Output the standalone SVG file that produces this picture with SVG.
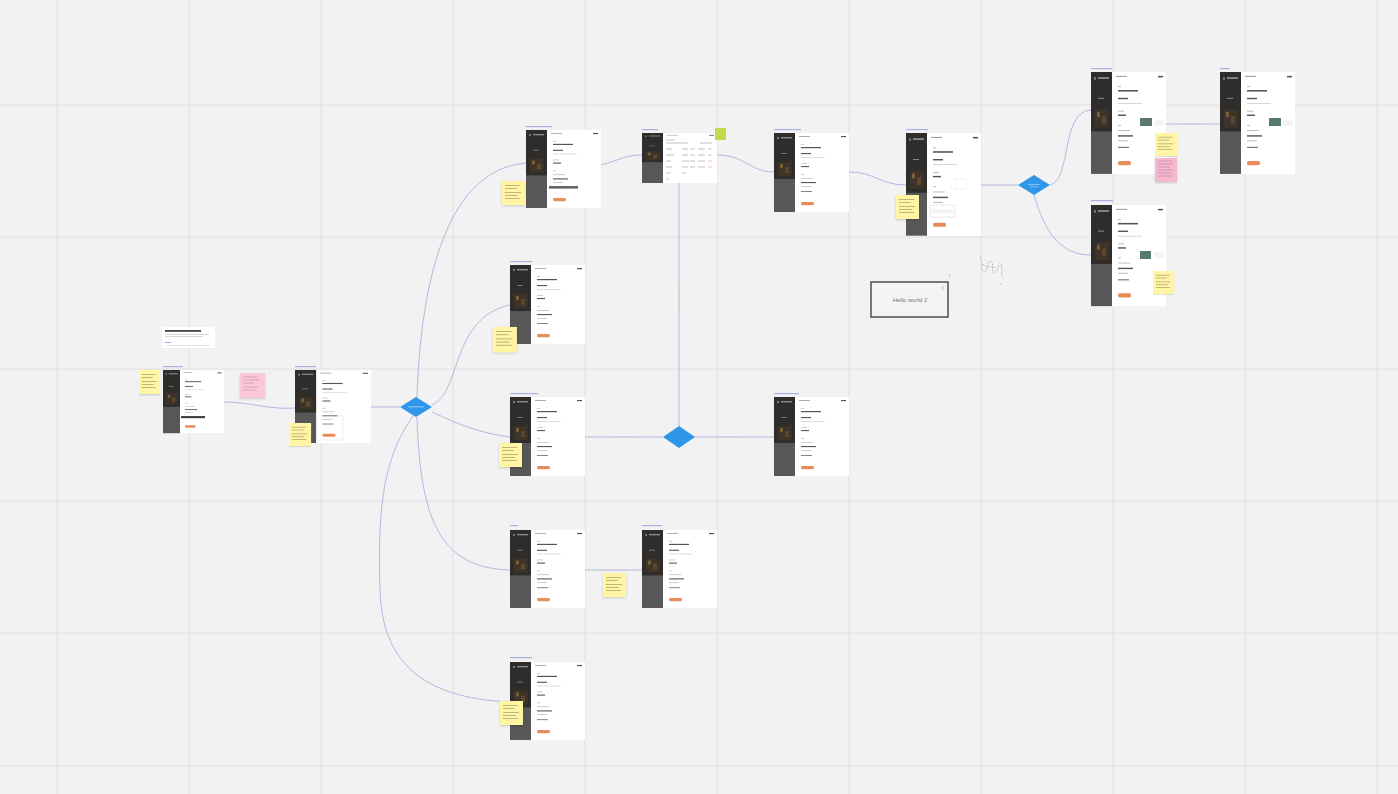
<svg xmlns="http://www.w3.org/2000/svg" xmlns:xlink="http://www.w3.org/1999/xlink" width="1398" height="794" viewBox="0 0 1398 794">
<style>
.grid{stroke:#e0e0e0;stroke-width:1}
.conn{fill:none;stroke:#b4b8e4;stroke-width:1}
.lbl{fill:#d0d1dc}
.tag{fill:#aab0e2}
.dia{fill:#2f96ea}
.sticky{fill:#fff5a5}
.pink{fill:#f8c8d8}
.ln{fill:#b5b5b5}
.lnd{fill:#555}
.hello{font-family:"Liberation Sans",Arial,sans-serif;font-size:6px;fill:#777}
</style>
<defs>
<filter id="sh" x="-20%" y="-20%" width="140%" height="150%">
<feDropShadow dx="0" dy="1" stdDeviation="0.8" flood-color="#000" flood-opacity="0.18"/>
</filter>
<g id="scr">
<rect x="0" y="0" width="21" height="79" fill="#575757"/>
<rect x="0" y="0" width="21" height="46" fill="#2f2d2b"/>
<rect x="3" y="4" width="2" height="2" fill="#777"/>
<rect x="7" y="4" width="11" height="1.4" fill="#8a8a8a"/>
<rect x="7" y="20" width="6" height="0.8" fill="#888"/>
<rect x="4" y="29" width="14" height="14" fill="#3e3328"/>
<rect x="6" y="31" width="3" height="4" fill="#7a5e38"/>
<rect x="11" y="34" width="4" height="6" fill="#5e4730"/>
<rect x="21" y="0" width="54" height="79" fill="#fff"/>
<rect x="25" y="3" width="11" height="0.8" fill="#999"/>
<rect x="67" y="3" width="5" height="1.2" fill="#555"/>
<rect x="27" y="11" width="3" height="0.7" class="ln"/>
<rect x="27" y="14" width="20" height="1.2" class="lnd"/>
<rect x="27" y="20" width="10" height="1.1" class="lnd"/>
<rect x="27" y="24" width="24" height="0.7" fill="#d0d0d0"/>
<rect x="27" y="30" width="6" height="0.7" class="ln"/>
<rect x="27" y="33" width="8" height="1.1" class="lnd"/>
<rect x="27" y="41" width="3" height="0.7" class="ln"/>
<rect x="27" y="45" width="12" height="0.7" class="ln"/>
<rect x="27" y="49" width="15" height="1.1" class="lnd"/>
<rect x="27" y="53" width="10" height="0.7" class="ln"/>
<rect x="27" y="58" width="11" height="0.9" fill="#777"/>
<rect x="27" y="69" width="13" height="3.2" rx="1.5" fill="#e98c5c"/>
</g>
<g id="stk">
<rect x="0" y="0" width="23" height="24" class="sticky" filter="url(#sh)"/>
<rect x="3" y="4" width="15" height="0.7" fill="#a49c66"/>
<rect x="3" y="7" width="12" height="0.7" fill="#a49c66"/>
<rect x="3" y="11" width="16" height="0.7" fill="#a49c66"/>
<rect x="3" y="14" width="13" height="0.7" fill="#a49c66"/>
<rect x="3" y="17" width="15" height="0.7" fill="#a49c66"/>
</g>
</defs>

<rect x="0" y="0" width="1398" height="794" fill="#f2f2f2"/>
<g id="grid">
<path class="grid" d="M57,0V794M189,0V794M321,0V794M453,0V794M585,0V794M717,0V794M849,0V794M981,0V794M1113,0V794M1245,0V794M1377,0V794M0,105H1398M0,237H1398M0,369H1398M0,501H1398M0,633H1398M0,766H1398"/>
</g>

<g id="connectors">
<path class="conn" d="M224,402 C250,402 270,410 295,408"/>
<path class="conn" d="M371,407 L400,407"/>
<path class="conn" d="M417,398 C420,300 440,170 526,163"/>
<path class="conn" d="M432,405 C462,392 450,318 510,305"/>
<path class="conn" d="M432,412 C460,425 480,433 510,437"/>
<path class="conn" d="M417,417 C420,520 440,568 510,570"/>
<path class="conn" d="M414,415 C380,460 378,520 380,590 C382,660 420,698 510,702"/>
<path class="conn" d="M585,437 L663,437"/>
<path class="conn" d="M695,437 L774,437"/>
<path class="conn" d="M679,426 L679,183"/>
<path class="conn" d="M601,165 C620,160 625,155 642,155"/>
<path class="conn" d="M717,155 C745,155 750,172 774,172"/>
<path class="conn" d="M849,172 C875,172 880,185 906,185"/>
<path class="conn" d="M981,185 L1018,185"/>
<path class="conn" d="M1050,185 C1072,180 1060,112 1091,110"/>
<path class="conn" d="M1034,195 C1045,232 1060,255 1091,255"/>
<path class="conn" d="M1166,124 L1220,124"/>
<path class="conn" d="M585,570 L642,570"/>
<rect class="lbl" x="613" y="436.4" width="24" height="1.2"/>
<rect class="lbl" x="715" y="436.4" width="28" height="1.2"/>
<rect class="lbl" x="678.4" y="285" width="1.2" height="28"/>
<rect class="lbl" x="602" y="569.4" width="24" height="1.2"/>
<rect class="lbl" x="1178" y="123.4" width="26" height="1.2"/>
</g>

<g id="title-card">
<rect x="162" y="327" width="53" height="21" rx="2" fill="#fff"/>
<rect x="165" y="330" width="36" height="1.8" fill="#444"/>
<rect x="165" y="334" width="44" height="0.6" fill="#bbb"/>
<rect x="165" y="336" width="38" height="0.6" fill="#bbb"/>
<rect x="165" y="342" width="6" height="0.7" fill="#6a8ad6"/>
<rect x="165" y="345" width="45" height="0.6" fill="#d0d3ec"/>
</g>

<g id="frame1"><rect class="tag" x="163" y="366" width="20" height="1.2"/><use href="#scr" transform="translate(163,370) scale(0.813,0.8)"/><rect x="181" y="416" width="24" height="2.2" fill="#444"/></g>
<g id="frame2"><rect class="tag" x="295" y="366" width="21" height="1.2"/><use href="#scr" transform="translate(295,370) scale(1.013,0.924)"/><rect x="317" y="416" width="26" height="24" fill="none" stroke="#ddd" stroke-width="0.5"/></g>
<g id="frame3"><rect class="tag" x="526" y="126" width="26" height="1.2"/><use href="#scr" transform="translate(526,130) scale(1,0.987)"/><rect x="549" y="186" width="29" height="2.6" fill="#666"/></g>
<g id="frame4"><rect class="tag" x="642" y="129" width="16" height="1.2"/><use href="#scr" transform="translate(642,133) scale(1,0.633)"/>
<rect x="664" y="138" width="50" height="44" fill="#fff"/>
<path d="M666,140h8M666,143h22M700,143h12M666,149h6M682,149h6M690,149h5M698,149h7M666,155h8M682,155h6M690,155h5M698,155h7M666,161h5M682,161h7M690,161h5M698,161h7M666,167h6M682,167h6M690,167h5M698,167h7M666,173h5M682,173h4M666,179h3" stroke="#999" stroke-width="0.6"/>
<path d="M708,149h4M708,155h4M708,161h4M708,167h4" stroke="#eab090" stroke-width="0.7"/>
<rect x="715" y="128" width="11" height="12" fill="#c5d94a"/></g>
<g id="frame5"><rect class="tag" x="774" y="129" width="27" height="1.2"/><use href="#scr" transform="translate(774,133)"/></g>
<g id="frame6"><rect class="tag" x="906" y="129" width="22" height="1.2"/><use href="#scr" transform="translate(906,133) scale(1,1.3)"/>
<rect x="955" y="179" width="11" height="10" fill="#fff" stroke="#e2e2e2" stroke-width="0.5"/>
<rect x="930" y="205" width="25" height="5" fill="#fff" stroke="#d6d6d6" stroke-width="0.5"/>
<rect x="930" y="212" width="25" height="5" fill="#fff" stroke="#d6d6d6" stroke-width="0.5"/></g>
<g id="frame7"><rect class="tag" x="1091" y="68" width="21" height="1.2"/><use href="#scr" transform="translate(1091,72) scale(1,1.29)"/>
<rect x="1140" y="118" width="12" height="8" fill="#5a7a70"/><rect x="1154" y="120" width="10" height="6" fill="#f4f4f4"/></g>
<g id="frame8"><rect class="tag" x="1220" y="68" width="10" height="1.2"/><use href="#scr" transform="translate(1220,72) scale(1,1.29)"/>
<rect x="1269" y="118" width="12" height="8" fill="#5a7a70"/><rect x="1283" y="120" width="10" height="6" fill="#f4f4f4"/></g>
<g id="frame9"><rect class="tag" x="1091" y="200" width="22" height="1.2"/><use href="#scr" transform="translate(1091,205) scale(1,1.28)"/>
<rect x="1140" y="251" width="11" height="8" fill="#5a7a70"/><rect x="1154" y="252" width="10" height="6" fill="#f4f4f4"/></g>
<g id="frame10"><rect class="tag" x="510" y="261" width="22" height="1.2"/><use href="#scr" transform="translate(510,265)"/></g>
<g id="frame11"><rect class="tag" x="510" y="393" width="28" height="1.2"/><use href="#scr" transform="translate(510,397)"/></g>
<g id="frame12"><rect class="tag" x="774" y="393" width="25" height="1.2"/><use href="#scr" transform="translate(774,397)"/></g>
<g id="frame13"><rect class="tag" x="510" y="525" width="8" height="1.2"/><use href="#scr" transform="translate(510,530) scale(1,0.987)"/></g>
<g id="frame14"><rect class="tag" x="642" y="525" width="20" height="1.2"/><use href="#scr" transform="translate(642,530) scale(1,0.987)"/></g>
<g id="frame15"><rect class="tag" x="510" y="657" width="22" height="1.2"/><use href="#scr" transform="translate(510,662) scale(1,0.987)"/></g>

<g id="diamond1"><path class="dia" d="M416,397 L432,407 L416,417 L400,407 Z"/><rect x="408" y="406.5" width="16" height="0.8" fill="#a9d3fb"/></g>
<g id="diamond2"><path class="dia" d="M679,426 L695,437 L679,448 L663,437 Z"/></g>
<g id="diamond3"><path class="dia" d="M1034,175 L1050,185 L1034,195 L1018,185 Z"/><rect x="1028" y="184" width="12" height="0.7" fill="#a9d3fb"/><rect x="1030" y="186.5" width="8" height="0.7" fill="#a9d3fb"/></g>

<g id="sticky1"><use href="#stk" transform="translate(139,370) scale(0.92,1)"/></g>
<g id="sticky2"><rect x="240" y="373" width="25" height="25" class="pink" filter="url(#sh)"/><path d="M243,377h14M243,380h16M243,383h11M243,387h15M243,390h12" stroke="#c08a9c" stroke-width="0.6"/></g>
<g id="sticky3"><use href="#stk" transform="translate(289,423) scale(0.96,0.96)"/></g>
<g id="sticky4"><use href="#stk" transform="translate(502,181)"/></g>
<g id="sticky5"><use href="#stk" transform="translate(493,327) scale(1.04,1.05)"/></g>
<g id="sticky6"><use href="#stk" transform="translate(499,443)"/></g>
<g id="sticky7"><use href="#stk" transform="translate(603,573)"/></g>
<g id="sticky8"><use href="#stk" transform="translate(500,701)"/></g>
<g id="sticky9"><use href="#stk" transform="translate(896,195)"/></g>
<g id="sticky10"><use href="#stk" transform="translate(1155,133) scale(0.96,0.96)"/></g>
<g id="sticky11"><rect x="1155" y="158" width="22" height="24" filter="url(#sh)" fill="#f5b8d0"/><path d="M1158,161h14M1158,164h15M1158,167h12M1158,170h15M1158,173h13M1158,176h14" stroke="#c27c98" stroke-width="0.6"/></g>
<g id="sticky12"><use href="#stk" transform="translate(1153,271) scale(0.92,0.96)"/></g>

<g id="hello">
<rect x="871" y="282" width="77" height="35" fill="#f4f4f4" stroke="#4d4d4d" stroke-width="1.5"/>
<text class="hello" x="910" y="301.5" text-anchor="middle">Hello world 2</text>
<path d="M941,287h3M941,289h3" stroke="#aaa" stroke-width="0.6"/>
<path d="M949,274l1,3" stroke="#999" stroke-width="0.6"/>
</g>

<g id="scribble" fill="none" stroke="#a0a0a0" stroke-width="0.8" stroke-dasharray="1 1">
<path d="M980,256 C984,262 979,270 985,272 C990,266 986,259 992,262 C994,268 990,274 996,272 C1000,266 998,262 1001,264 C1003,270 1000,276 1004,279"/>
<path d="M983,264 C987,268 992,266 996,268"/>
<path d="M1000,283l2,2"/>
</g>
</svg>
